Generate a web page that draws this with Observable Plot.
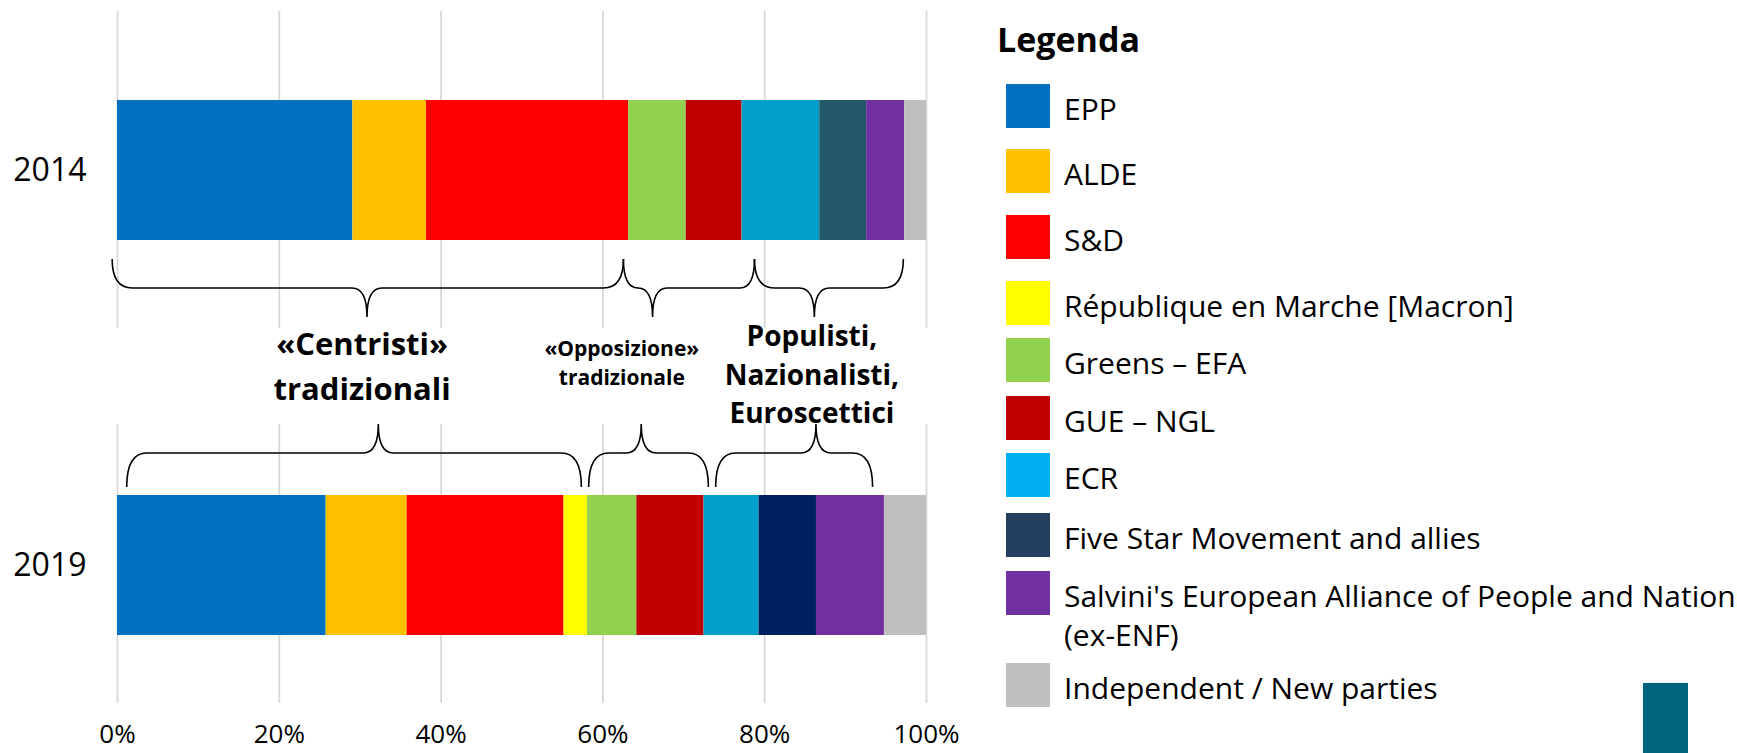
<!DOCTYPE html>
<html>
<head>
<meta charset="utf-8">
<script src="https://cdn.jsdelivr.net/npm/d3@7"></script>
<script src="https://cdn.jsdelivr.net/npm/@observablehq/plot@0.6"></script>
<style>
  html, body { margin: 0; padding: 0; background: #fff; width: 1737px; height: 753px; overflow: hidden; }
  #wrap { position: relative; width: 1737px; height: 753px; overflow: hidden; }
  #chart { position: absolute; left: 0; top: 0; }
  #legend { position: absolute; left: 0; top: 0; width: 1737px; height: 753px; font-family: "Open Sans", sans-serif; color: #000; }
  .lg-title { position: absolute; left: 997px; top: 14px; font-size: 34px; font-weight: bold; line-height: 50px; white-space: nowrap; }
  .lg-sw { position: absolute; left: 1006px; width: 44px; height: 44px; }
  .lg-tx { position: absolute; left: 1064px; font-size: 30px; line-height: 39px; white-space: pre; }
  #deco { position: absolute; left: 1643px; top: 683px; width: 45px; height: 70px; background: #02657E; }
</style>
</head>
<body>
<div id="wrap">
  <div id="chart"></div>
  <div id="legend"></div>
  <div id="deco"></div>
</div>
<script>
// ---------- data ----------
const years = ["2014", "2019"];
const parties = [
  "EPP",
  "ALDE",
  "S&D",
  "République en Marche [Macron]",
  "Greens – EFA",
  "GUE – NGL",
  "ECR",
  "Five Star Movement and allies",
  "Salvini's European Alliance of People and Nations\n(ex-ENF)",
  "Independent / New parties"
];
const share2014 = [29.1, 9.1, 25.0, 0, 7.1, 6.9, 9.6, 5.8, 4.7, 2.7];
const share2019 = [25.8, 10.0, 19.4, 2.9, 6.1, 8.3, 6.8, 7.1, 8.4, 5.2];
const colors2014 = ["#0070C0", "#FFC000", "#FF0000", "#FFFF00", "#92D050", "#C00000", "#009EC8", "#215968", "#7030A0", "#BFBFBF"];
const colors2019 = ["#0070C0", "#FFC000", "#FF0000", "#FFFF00", "#92D050", "#C00000", "#009EC8", "#002060", "#7030A0", "#BFBFBF"];
const legendColors = ["#0070C0", "#FFC000", "#FF0000", "#FFFF00", "#92D050", "#C00000", "#00B0F0", "#243F60", "#7030A0", "#BFBFBF"];
const xTicks = [0, 20, 40, 60, 80, 100];

// bloc annotations (percent of seats along x)
const blocNames = [["«Centristi»", "tradizionali"], ["«Opposizione»", "tradizionale"], ["Populisti,", "Nazionalisti,", "Euroscettici"]];
const braceStart2014 = [-0.6, 62.6, 78.8];
const braceEnd2014 = [62.6, 78.8, 97.2];
const braceTip2014 = [30.9, 66.2, 86.2];
const braceStart2019 = [1.2, 58.3, 74.0];
const braceEnd2019 = [57.4, 73.1, 93.4];
const braceTip2019 = [32.3, 64.8, 86.4];
const blocLabelX = [30.3, 62.4, 85.9];

// ---------- layout / style (not data) ----------
const legendTops = [84, 149, 215, 281, 338, 396, 453, 513, 571, 663];
const FONT = "'Open Sans', sans-serif";

// ---------- table ----------
const rows = [];
years.forEach((yr, i) => {
  const vals = i === 0 ? share2014 : share2019;
  const cols = i === 0 ? colors2014 : colors2019;
  parties.forEach((p, j) => {
    if (vals[j] > 0) rows.push({year: yr, party: p, share: vals[j], color: cols[j]});
  });
});

function bracePath(x0, x1, xt, yEnd, yLine, yTip) {
  const left = xt - x0, right = x1 - xt;
  const r = Math.min(20, left / 2, right / 2);
  const rt = Math.min(15, left / 2, right / 2);
  return `M${x0},${yEnd} Q${x0},${yLine} ${x0 + r},${yLine} L${xt - rt},${yLine} Q${xt},${yLine} ${xt},${yTip} ` +
         `Q${xt},${yLine} ${xt + rt},${yLine} L${x1 - r},${yLine} Q${x1},${yLine} ${x1},${yEnd}`;
}

function annotations(index, scales, values, dimensions) {
  const x = scales.x, y = scales.y;
  const bw = typeof y.bandwidth === "function" ? y.bandwidth() : 0;
  const bot14 = y("2014") + bw;
  const top19 = y("2019");
  const g = d3.create("svg:g");
  // white band masking the gridlines behind the labels
  g.append("rect")
    .attr("x", 0).attr("width", dimensions.width)
    .attr("y", bot14 + 88).attr("height", (top19 - 71) - (bot14 + 88))
    .attr("fill", "white");
  const bg = g.append("g").attr("fill", "none").attr("stroke", "#000").attr("stroke-width", 1.6);
  for (let k = 0; k < 3; k++) {
    bg.append("path").attr("d", bracePath(x(braceStart2014[k]), x(braceEnd2014[k]), x(braceTip2014[k]), bot14 + 19, bot14 + 48, bot14 + 77));
    bg.append("path").attr("d", bracePath(x(braceStart2019[k]), x(braceEnd2019[k]), x(braceTip2019[k]), top19 - 8, top19 - 42, top19 - 71));
  }
  const specs = [
    {size: 31, lines: [bot14 + 104, bot14 + 149]},
    {size: 21, lines: [bot14 + 108, bot14 + 137]},
    {size: 28, lines: [bot14 + 96, bot14 + 135, bot14 + 173]}
  ];
  const tg = g.append("g").attr("font-family", FONT).attr("font-weight", "bold").attr("text-anchor", "middle").attr("fill", "#000");
  blocNames.forEach((lines, k) => {
    lines.forEach((t, li) => {
      tg.append("text")
        .attr("x", x(blocLabelX[k]))
        .attr("y", specs[k].lines[li])
        .attr("dy", "0.36em")
        .attr("font-size", specs[k].size)
        .text(t);
    });
  });
  return g.node();
}

const chart = Plot.plot({
  width: 990,
  height: 753,
  marginLeft: 117,
  marginRight: 64,
  marginTop: 11,
  marginBottom: 50,
  style: {fontFamily: FONT, background: "white", overflow: "visible"},
  x: {domain: [0, 100]},
  y: {domain: years, range: [100, 635], paddingInner: 0.646, paddingOuter: 0},
  color: {type: "identity"},
  marks: [
    Plot.gridX(xTicks, {stroke: "#D9D9D9", strokeOpacity: 1, strokeWidth: 1.8}),
    Plot.barX(rows, Plot.stackX({y: "year", x: "share", fill: "color", order: null})),
    annotations,
    Plot.axisX(xTicks, {tickSize: 0, tickPadding: 21, fontSize: 26, tickFormat: d => d + "%", label: null, fill: "#000"}),
    Plot.axisY({tickSize: 0, tickPadding: 31, fontSize: 32, label: null, fill: "#000"})
  ]
});
document.getElementById("chart").appendChild(chart);

// ---------- legend ----------
const legend = document.getElementById("legend");
const title = document.createElement("div");
title.className = "lg-title";
title.textContent = "Legenda";
legend.appendChild(title);
parties.forEach((p, j) => {
  const sw = document.createElement("div");
  sw.className = "lg-sw";
  sw.style.top = legendTops[j] + "px";
  sw.style.background = legendColors[j];
  legend.appendChild(sw);
  const tx = document.createElement("div");
  tx.className = "lg-tx";
  tx.style.top = (legendTops[j] + 22 + 2 - 19.5) + "px";
  tx.textContent = p;
  legend.appendChild(tx);
});
</script>
</body>
</html>
